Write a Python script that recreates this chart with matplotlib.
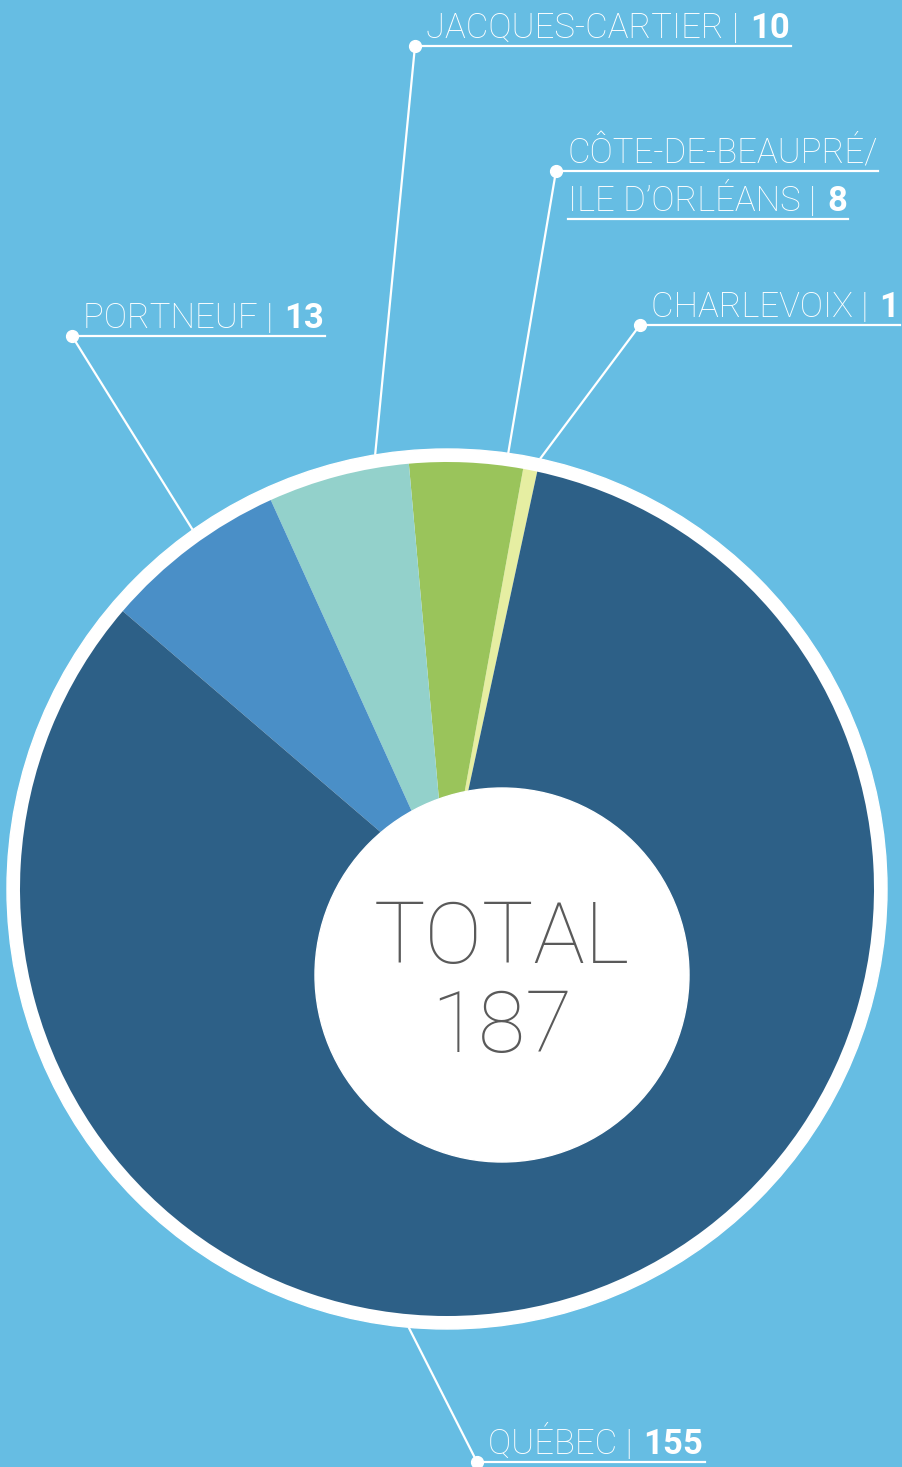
import numpy as np
import matplotlib
matplotlib.use("Agg")
import matplotlib.pyplot as plt
from matplotlib.patches import Circle

# data (pie goes counterclockwise on screen starting at Charlevoix)
regions = ["CHARLEVOIX", "CÔTE-DE-BEAUPRÉ/\nILE D’ORLÉANS", "JACQUES-CARTIER", "PORTNEUF", "QUÉBEC"]
counts = [1, 8, 10, 13, 155]
colors = ["#E6EEA2", "#9AC45B", "#93D1CB", "#4A8FC7", "#2D6087"]
total = sum(counts)

BG = "#66BDE3"
W, H = 902, 1467
cx, cy, R = 447, 889, 427

# label layout: (angle on ring in deg, dot x, dot y)
label_pos = {
    "CHARLEVOIX": (77.8, 640, 325),
    "CÔTE-DE-BEAUPRÉ/\nILE D’ORLÉANS": (82.0, 556, 171),
    "JACQUES-CARTIER": (99.4, 415, 46),
    "PORTNEUF": (125.3, 72, 336),
    "QUÉBEC": (265.0, 477, 1462),
}

fig = plt.figure(figsize=(W / 100, H / 100), dpi=100, facecolor=BG)
ax = fig.add_axes([0, 0, 1, 1])
ax.set_facecolor(BG)

# white ring behind the pie
ax.add_patch(Circle((cx, cy), 440, color="white", zorder=1))
wedges, _ = ax.pie(counts, colors=colors, center=(cx, cy), radius=R,
                   startangle=-77.8, counterclock=False, frame=True,
                   wedgeprops=dict(linewidth=0))
for w in wedges:
    w.set_zorder(2)
ax.set_xlim(0, W)
ax.set_ylim(H, 0)
ax.set_aspect("equal")
ax.axis("off")

# center disc
ax.add_patch(Circle((502, 975), 187, color="white", zorder=3))
ax.text(502, 963, "TOTAL", ha="center", va="baseline", fontsize=62,
        family="Roboto", fontweight="light", color="#5A5A5A", zorder=4)
ax.text(502, 1052, str(total), ha="center", va="baseline", fontsize=62,
        family="Roboto", fontweight="light", color="#5A5A5A", zorder=4)

fig.canvas.draw()
rend = fig.canvas.get_renderer()

lw = 1.6
fs = 25


def label_line(x0, y, name, num):
    t1 = ax.text(x0, y - 8, name + " |", ha="left", va="baseline", fontsize=fs,
                 family="Roboto", fontweight="light", color="white", zorder=5)
    x1 = t1.get_window_extent(rend).x1 + 11
    t2 = ax.text(x1, y - 8, str(num), ha="left", va="baseline", fontsize=fs,
                 family="Roboto", fontweight="bold", color="white", zorder=5)
    return t2.get_window_extent(rend).x1 + 1


for name, n in zip(regions, counts):
    ang, dx, dy = label_pos[name]
    a = np.deg2rad(ang)
    sx, sy = cx + 440 * np.cos(a), cy - 440 * np.sin(a)
    ax.plot([sx, dx], [sy, dy], color="white", lw=lw, zorder=5, solid_capstyle="butt")
    ax.plot(dx, dy, "o", color="white", ms=8.5, zorder=6)
    lines = name.split("\n")
    if len(lines) == 1:
        xe = label_line(dx + 11, dy, lines[0], n)
        ax.plot([dx, xe], [dy, dy], color="white", lw=lw, zorder=5)
    else:
        t = ax.text(dx + 12, dy - 8, lines[0], ha="left", va="baseline", fontsize=fs,
                    family="Roboto", fontweight="light", color="white", zorder=5)
        xe = t.get_window_extent(rend).x1
        ax.plot([dx, xe], [dy, dy], color="white", lw=lw, zorder=5)
        xe2 = label_line(dx + 12, dy + 48, lines[1], n)
        ax.plot([dx + 12, xe2], [dy + 48, dy + 48], color="white", lw=lw, zorder=5)

fig.savefig("out.png", dpi=100, facecolor=BG)
